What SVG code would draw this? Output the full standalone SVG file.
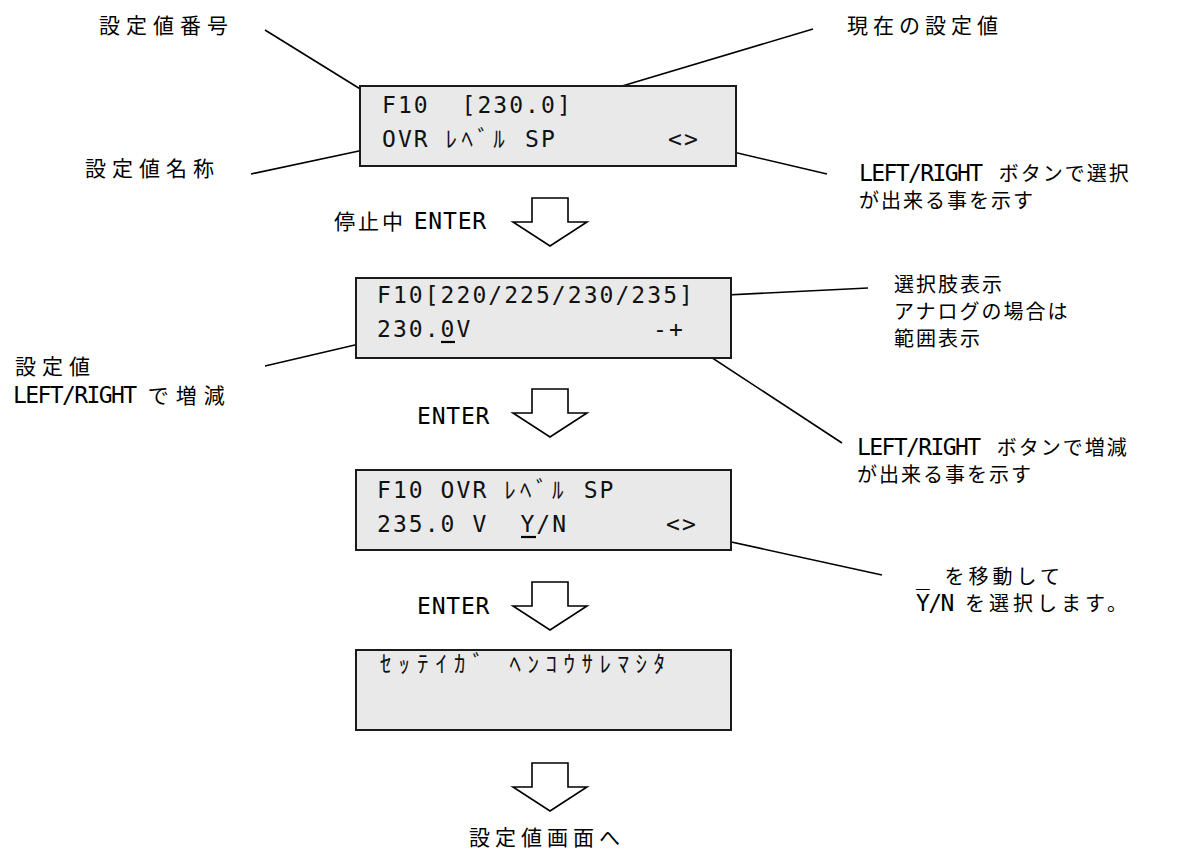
<svg xmlns="http://www.w3.org/2000/svg" width="1183" height="850" viewBox="0 0 1183 850">
<style>
.bg{fill:#fff}
.lcdbox{fill:#e9e9e9;stroke:#1a1a1a;stroke-width:2}
.lcd{font-family:"DejaVu Sans Mono","Noto Sans CJK JP",monospace;font-size:23px;letter-spacing:2.05px;fill:#111}
.kana{font-family:"Noto Sans CJK JP",monospace;font-size:23px;letter-spacing:0;fill:#111}
.lbl{font-family:"Noto Sans CJK JP",sans-serif;font-size:21px;letter-spacing:6px;fill:#000}
.lbl2{font-family:"Noto Sans CJK JP",sans-serif;font-size:20px;letter-spacing:2px;fill:#000}
.lat{font-family:"DejaVu Sans Mono","Liberation Mono",monospace;font-size:23px;letter-spacing:-1.6px}
.latw{font-family:"DejaVu Sans Mono","Liberation Mono",monospace;font-size:23px;letter-spacing:0.8px}
.lead{stroke:#000;stroke-width:1.6;fill:none}
.arrow{fill:#fff;stroke:#000;stroke-width:1.6;stroke-linejoin:miter}
.ul{stroke:#000;stroke-width:2.2}
</style>
<rect class="bg" x="0" y="0" width="1183" height="850"/>

<g id="connectors">
  <line class="lead" x1="265" y1="30" x2="370" y2="95"/>
  <line class="lead" x1="251" y1="174" x2="373" y2="148"/>
  <line class="lead" x1="813" y1="29" x2="592" y2="95"/>
  <line class="lead" x1="712" y1="147" x2="827" y2="174"/>
  <line class="lead" x1="868" y1="288" x2="707" y2="296"/>
  <line class="lead" x1="691" y1="344" x2="842" y2="443"/>
  <line class="lead" x1="372" y1="341" x2="265" y2="366"/>
  <line class="lead" x1="713" y1="538" x2="882" y2="575"/>
  <path class="arrow" d="M532,198 H568 V222 H587 L550,246 L513,222 H532 Z"/>
  <path class="arrow" d="M532,389 H568 V413 H587 L550,437 L513,413 H532 Z"/>
  <path class="arrow" d="M532,582 H568 V606 H587 L550,630 L513,606 H532 Z"/>
  <path class="arrow" d="M532,763 H568 V787 H587 L550,811 L513,787 H532 Z"/>
</g>

<g id="lcd1">
  <rect class="lcdbox" x="360" y="86" width="376" height="80"/>
  <text class="lcd" x="382" y="113">F10</text>
  <text class="lcd" x="461.5" y="113">[230.0]</text>
  <text class="lcd" x="382" y="147">OVR</text>
  <text class="kana" x="445.6 461.5 477.4 493.3" y="147">ﾚﾍﾞﾙ</text>
  <text class="lcd" x="525.1" y="147">SP</text>
  <text class="lcd" x="668" y="147">&lt;&gt;</text>
</g>

<g id="lcd2">
  <rect class="lcdbox" x="356" y="278" width="375" height="80"/>
  <text class="lcd" x="377" y="303">F10[220/225/230/235]</text>
  <text class="lcd" x="377" y="337">230.0V</text>
  <line class="ul" x1="441" y1="342" x2="455" y2="342"/>
  <text class="lcd" x="653" y="337">-+</text>
</g>

<g id="lcd3">
  <rect class="lcdbox" x="356" y="470" width="375" height="80"/>
  <text class="lcd" x="377" y="498">F10</text>
  <text class="lcd" x="440.6" y="498">OVR</text>
  <text class="kana" x="504.2 520.1 536 551.9" y="498">ﾚﾍﾞﾙ</text>
  <text class="lcd" x="583.7" y="498">SP</text>
  <text class="lcd" x="377" y="532">235.0</text>
  <text class="lcd" x="472.4" y="532">V</text>
  <text class="lcd" x="520.4" y="532">Y/N</text>
  <line class="ul" x1="521" y1="537" x2="536" y2="537"/>
  <text class="lcd" x="666" y="532">&lt;&gt;</text>
</g>

<g id="lcd4">
  <rect class="lcdbox" x="356" y="650" width="375" height="80"/>
  <text class="kana" x="380 398.5 417 435.5 454 472.5" y="672">ｾｯﾃｲｶﾞ</text>
  <text class="kana" x="509.5 527.5 545.5 563.5 581.5 599.5 617.5 635.5 653.5" y="672">ﾍﾝｺｳｻﾚﾏｼﾀ</text>
</g>

<g id="label-number"><text class="lbl" x="99" y="33">設定値番号</text></g>
<g id="label-current"><text class="lbl" x="847" y="33" style="letter-spacing:5px">現在の設定値</text></g>
<g id="label-name"><text class="lbl" x="85" y="176">設定値名称</text></g>
<g id="label-select">
  <text class="lbl2"><tspan x="859" y="181"><tspan class="lat">LEFT/RIGHT </tspan><tspan dx="5">ボタンで選択</tspan></tspan><tspan x="859" y="208">が出来る事を示す</tspan></text>
</g>
<g id="label-stop-enter"><text class="lbl" x="334" y="229" style="letter-spacing:3px">停止中 <tspan class="latw">ENTER</tspan></text></g>
<g id="label-choices">
  <text class="lbl2"><tspan x="894" y="292">選択肢表示</tspan><tspan x="894" y="319">アナログの場合は</tspan><tspan x="894" y="346">範囲表示</tspan></text>
</g>
<g id="label-value">
  <text class="lbl"><tspan x="15" y="374">設定値</tspan><tspan x="13" y="403"><tspan class="lat">LEFT/RIGHT </tspan><tspan style="letter-spacing:7px">で増減</tspan></tspan></text>
</g>
<g id="label-enter2"><text class="lbl" x="417" y="424"><tspan class="latw">ENTER</tspan></text></g>
<g id="label-incdec">
  <text class="lbl2"><tspan x="857" y="455"><tspan class="lat">LEFT/RIGHT </tspan><tspan dx="5">ボタンで増減</tspan></tspan><tspan x="857" y="482">が出来る事を示す</tspan></text>
</g>
<g id="label-yn">
  <text class="lbl2" style="letter-spacing:4px"><tspan x="916" y="584"><tspan class="lat">_ </tspan><tspan dx="4">を移動して</tspan></tspan><tspan x="916" y="611"><tspan class="lat">Y/N </tspan>を選択します。</tspan></text>
</g>
<g id="label-enter3"><text class="lbl" x="417" y="614"><tspan class="latw">ENTER</tspan></text></g>
<g id="label-goto"><text class="lbl" x="469" y="845" style="letter-spacing:5px">設定値画面へ</text></g>
</svg>
